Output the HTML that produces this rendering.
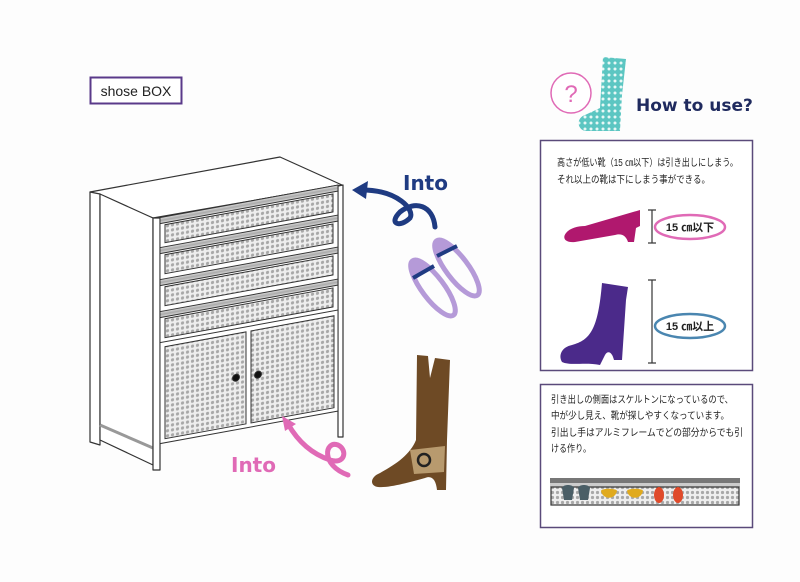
<!DOCTYPE html>
<html><head><meta charset="utf-8"><style>
body{margin:0;background:#fdfdfd;}
svg{display:block;font-family:"Liberation Sans","Noto Sans CJK JP",sans-serif;}
</style></head><body>
<svg width="800" height="582" viewBox="0 0 800 582" xmlns="http://www.w3.org/2000/svg">
<defs>
<pattern id="dots" width="5" height="5" patternUnits="userSpaceOnUse">
<rect width="5" height="5" fill="#eee"/><circle cx="2.5" cy="2.5" r="1.6" fill="#a8a8a8"/>
</pattern>
<pattern id="tdots" width="6" height="6" patternUnits="userSpaceOnUse">
<rect width="6" height="6" fill="#5cc6c2"/><circle cx="3" cy="3" r="1.5" fill="#e8f8f6"/>
</pattern>
<linearGradient id="bar" x1="0" y1="0" x2="0" y2="1"><stop offset="0" stop-color="#ddd"/><stop offset="0.5" stop-color="#aaa"/><stop offset="1" stop-color="#ddd"/></linearGradient>
</defs>
<rect width="800" height="582" fill="#fdfdfd"/>

<rect x="90.5" y="77.5" width="91" height="26" fill="#fff" stroke="#5a3a8a" stroke-width="2"/>
<text x="136" y="96" font-size="14" fill="#222" text-anchor="middle">shose BOX</text>

<g stroke="#333" stroke-width="1.2" fill="#fff" stroke-linejoin="round">
<polygon points="90,192 280,157 342,185 153,218"/>
<polygon points="90,192 100,194 100,445 90,442"/>
<polygon points="100,194 153,218 153,465 100,440" fill="#fff"/>
<line x1="100" y1="425" x2="153" y2="448" stroke-width="3" stroke="#999"/>
<polygon points="153,218 160,218 160,470 153,470"/>
<polygon points="338,186 343,185 343,437 338,437"/>
</g>
<g transform="matrix(1,-0.183,0,1,0,28.9)" stroke="#333" stroke-width="1">
<rect x="160" y="218" width="178" height="226" fill="#fff"/>
<rect x="160" y="218" width="178" height="6" fill="url(#bar)"/>
<rect x="165" y="226" width="168" height="18" fill="url(#dots)"/>
<rect x="160" y="248" width="178" height="6" fill="url(#bar)"/>
<rect x="165" y="256" width="168" height="19" fill="url(#dots)"/>
<rect x="160" y="280" width="178" height="6" fill="url(#bar)"/>
<rect x="165" y="288" width="168" height="19" fill="url(#dots)"/>
<rect x="160" y="312" width="178" height="6" fill="url(#bar)"/>
<rect x="165" y="320" width="168" height="19" fill="url(#dots)"/>
<line x1="160" y1="343" x2="338" y2="343"/>
<rect x="165" y="348" width="81" height="92" fill="url(#dots)"/>
<rect x="251" y="348" width="83" height="92" fill="url(#dots)"/>
<circle cx="236" cy="392" r="3.5" fill="#111"/>
<circle cx="258" cy="393" r="3.5" fill="#111"/>
</g>

<path d="M435,227 C433,205 415,200 400,212 C388,224 400,228 410,218 C415,210 398,190 362,190" fill="none" stroke="#1f3b82" stroke-width="5" stroke-linecap="round"/>
<polygon points="352,190 368,181 366,199" fill="#1f3b82"/>
<text x="403" y="190" font-size="20" font-weight="bold" fill="#1f3b82" font-family="'DejaVu Sans',sans-serif">Into</text>

<!-- flats -->
<g fill="none" stroke="#b59ad8" stroke-width="5">
<ellipse cx="433" cy="288" rx="34" ry="11" transform="rotate(53 433 288)"/>
<ellipse cx="457" cy="268" rx="34" ry="11" transform="rotate(53 457 268)"/>
</g>
<path d="M412,262 C410,272 412,278 415,280 L428,270 C422,264 416,260 412,262Z" fill="#b59ad8"/>
<path d="M436,240 C434,250 436,256 439,258 L452,248 C446,242 440,238 436,240Z" fill="#b59ad8"/>
<path d="M413,278 L434,266" stroke="#1f3b82" stroke-width="4"/>
<path d="M437,256 L457,246" stroke="#1f3b82" stroke-width="4"/>

<!-- brown boot -->
<path d="M417,355 L428,356 L430,378 L435,358 L450,360 L447,440 L446,490 L437,490 C436,480 432,475 425,478 C410,482 390,488 378,487 C370,486 370,478 378,474 C395,465 410,455 416,440Z" fill="#6e4a25"/>
<path d="M410,450 L445,446 L444,472 L414,474Z" fill="#b89a6e"/>
<circle cx="424" cy="460" r="6" fill="none" stroke="#222" stroke-width="2.5"/>

<path d="M288,424 C300,445 315,455 330,460 C345,465 348,450 338,445 C325,440 320,465 348,475" fill="none" stroke="#e06ab6" stroke-width="5" stroke-linecap="round"/>
<polygon points="282,416 296,424 285,431" fill="#e06ab6"/>
<text x="231" y="472" font-size="20" font-weight="bold" fill="#e06ab6" font-family="'DejaVu Sans',sans-serif">Into</text>

<circle cx="571" cy="93" r="20" fill="#fff" stroke="#e06ab6" stroke-width="1.5"/>
<text x="571" y="102" font-size="24" fill="#e06ab6" text-anchor="middle">?</text>
<path d="M603,57 L626,59 L622,95 L620,131 L585,131 C577,129 576,118 585,115 L600,108Z" fill="url(#tdots)"/>
<text x="636" y="111" font-size="17" font-weight="bold" fill="#1f2a5e" font-family="'DejaVu Sans',sans-serif">How to use?</text>

<rect x="540.5" y="140.5" width="212" height="230" fill="#fff" stroke="#5a4a7a" stroke-width="1.5"/>
<text x="557" y="166" font-size="10" fill="#222" textLength="181" lengthAdjust="spacingAndGlyphs">高さが低い靴（15 ㎝以下）は引き出しにしまう。</text>
<text x="557" y="183" font-size="10" fill="#222" textLength="153" lengthAdjust="spacingAndGlyphs">それ以上の靴は下にしまう事ができる。</text>
<path d="M566,233 C570,228 578,226 585,226 L640,210 L640,226 L636,228 L634,242 L628,242 C626,236 622,233 615,235 L575,242 C565,243 562,238 566,233Z" fill="#b0186e"/>
<g stroke="#333" stroke-width="1.2"><line x1="652" y1="210" x2="652" y2="243"/><line x1="648" y1="210" x2="656" y2="210"/><line x1="648" y1="243" x2="656" y2="243"/>
<line x1="652" y1="280" x2="652" y2="363"/><line x1="648" y1="280" x2="656" y2="280"/><line x1="648" y1="363" x2="656" y2="363"/></g>
<ellipse cx="690" cy="227" rx="35" ry="12" fill="#fff" stroke="#e06ab6" stroke-width="2.5"/>
<text x="690" y="231" font-size="11" font-weight="bold" fill="#222" text-anchor="middle">15 ㎝以下</text>
<path d="M602,283 L628,287 L626,300 L622,360 L614,360 C612,352 608,350 605,355 L600,365 C585,362 570,366 562,362 C558,355 562,347 572,345 C590,340 598,330 602,283Z" fill="#4b2a8a"/>
<ellipse cx="690" cy="326" rx="35" ry="12" fill="#fff" stroke="#4a86b0" stroke-width="2.5"/>
<text x="690" y="330" font-size="11" font-weight="bold" fill="#222" text-anchor="middle">15 ㎝以上</text>

<rect x="540.5" y="384.5" width="212" height="143" fill="#fff" stroke="#5a4a7a" stroke-width="1.5"/>
<text x="551" y="403" font-size="10" fill="#222" textLength="182" lengthAdjust="spacingAndGlyphs">引き出しの側面はスケルトンになっているので、</text>
<text x="551" y="419" font-size="10" fill="#222" textLength="178" lengthAdjust="spacingAndGlyphs">中が少し見え、靴が探しやすくなっています。</text>
<text x="551" y="436" font-size="10" fill="#222" textLength="192" lengthAdjust="spacingAndGlyphs">引出し手はアルミフレームでどの部分からでも引</text>
<text x="551" y="452" font-size="10" fill="#222" textLength="40" lengthAdjust="spacingAndGlyphs">ける作り。</text>
<rect x="550" y="478" width="190" height="5" fill="#777"/>
<rect x="550" y="483" width="190" height="4" fill="#ccc"/>
<rect x="551" y="487" width="188" height="18" fill="url(#dots)" stroke="#333" stroke-width="1.2"/>
<g fill="#4a5e66"><path d="M564,500 L562,488 C563,484 573,484 574,488 L572,500Z"/><path d="M580,500 L578,488 C579,484 589,484 590,488 L588,500Z"/></g>
<g fill="#e0aa1e"><path d="M601,491 C601,488 617,488 617,491 C615,500 603,500 601,491Z"/><path d="M627,491 C627,488 643,488 643,491 C641,500 629,500 627,491Z"/></g>
<g fill="#e04a2a"><ellipse cx="659" cy="495" rx="5" ry="8"/><ellipse cx="678" cy="495" rx="5" ry="8"/></g>
</svg>
</body></html>
